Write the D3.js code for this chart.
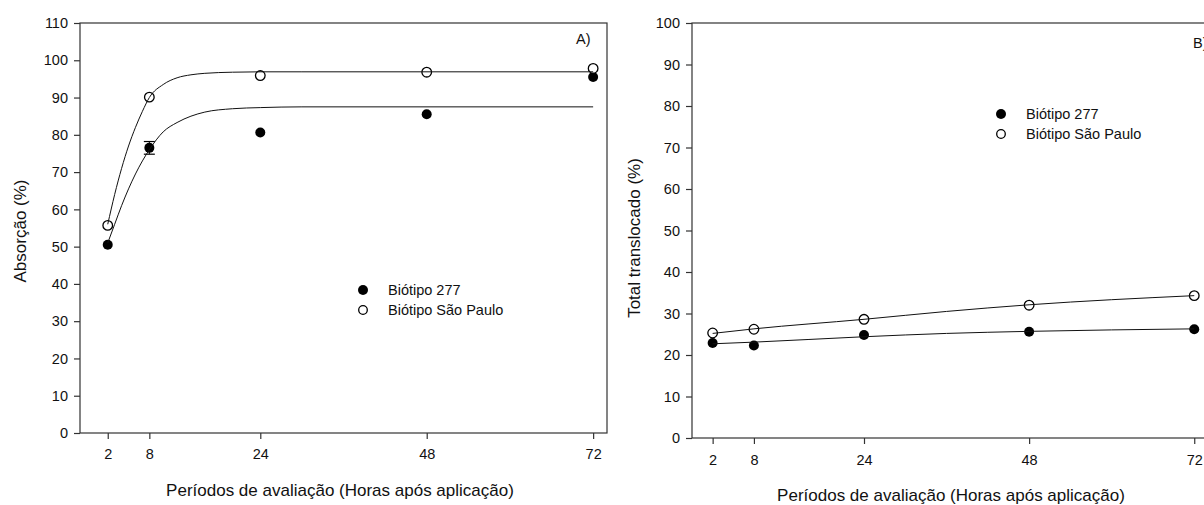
<!DOCTYPE html>
<html>
<head>
<meta charset="utf-8">
<script src="https://cdn.jsdelivr.net/npm/d3@7"></script>
<style>
  body { margin: 0; background: #fff; }
  svg { display: block; font-family: "Liberation Sans", Arial, sans-serif; }
  .axis path, .axis line { stroke: #333; stroke-width: 1.2; }
</style>
</head>
<body>
<div id="vis"></div>
<script>
const FRAME_WIDTH = 1204;
const FRAME_HEIGHT = 505;

// sampling times (hours after application)
const HOURS = [2, 8, 24, 48, 72];
const X_TICKS = [2, 8, 24, 48, 72];
const SERIES_NAMES = ["Biótipo 277", "Biótipo São Paulo"];

// panel A - absorption (%)
const ABS_277 = [50.5, 76.5, 80.6, 85.5, 95.5];
const ABS_277_ERR = [0, 1.7, 0, 0, 0];
const ABS_SP = [55.7, 90.1, 95.9, 96.8, 97.8];
// fitted curves
const ABS_FIT_X = [2, 3, 4, 5, 6, 7, 8, 10, 12, 14, 16, 20, 24, 30, 72];
const ABS_FIT_277 = [51, 56, 61, 65.5, 69.5, 73, 76, 80.8, 83.3, 85, 86.1, 87, 87.3, 87.5, 87.5];
const ABS_FIT_SP = [56, 64, 71, 77, 82, 86.3, 90, 93.5, 95.3, 96.1, 96.5, 96.8, 96.9, 96.9, 96.9];

// panel B - total translocated (%)
const TRANS_277 = [22.9, 22.3, 24.8, 25.6, 26.2];
const TRANS_SP = [25.3, 26.2, 28.6, 32.0, 34.3];
const TRANS_FIT_X = [2, 8, 24, 36, 48, 72];
const TRANS_FIT_277 = [22.7, 23.1, 24.4, 25.2, 25.7, 26.3];
const TRANS_FIT_SP = [25.2, 26.3, 28.6, 30.5, 32.1, 34.3];

const X_TITLE = "Períodos de avaliação (Horas após aplicação)";

const SVG = d3.select("#vis")
              .append("svg")
                .attr("width", FRAME_WIDTH)
                .attr("height", FRAME_HEIGHT);

function panel(cfg) {
    const X_SCALE = d3.scaleLinear()
                      .domain(cfg.xDomain)
                      .range([cfg.left, cfg.right]);
    const Y_SCALE = d3.scaleLinear()
                      .domain([0, cfg.yMax])
                      .range([cfg.bottom, cfg.top]);

    // frame
    SVG.append("rect")
       .attr("x", cfg.left)
       .attr("y", cfg.top)
       .attr("width", cfg.right - cfg.left)
       .attr("height", cfg.bottom - cfg.top)
       .attr("fill", "none")
       .attr("stroke", "#333")
       .attr("stroke-width", 1.2);

    // x axis
    const xAxis = SVG.append("g")
       .attr("class", "axis")
       .attr("transform", "translate(0," + cfg.bottom + ")")
       .call(d3.axisBottom(X_SCALE).tickValues(X_TICKS).tickSize(6).tickSizeOuter(0).tickPadding(cfg.xPad));
    xAxis.select(".domain").remove();

    // y axis
    const yAxis = SVG.append("g")
       .attr("class", "axis")
       .attr("transform", "translate(" + cfg.left + ",0)")
       .call(d3.axisLeft(Y_SCALE).tickValues(d3.range(0, cfg.yMax + 1, 10)).tickSize(6).tickSizeOuter(0).tickPadding(6));
    yAxis.select(".domain").remove();

    [xAxis, yAxis].forEach((g) => {
        g.attr("font-family", "Liberation Sans, Arial, sans-serif")
         .attr("font-size", 14.5);
        g.selectAll("text").attr("fill", "#111");
    });

    // error bars
    cfg.err.forEach((e, i) => {
        if (e <= 0) return;
        const cx = X_SCALE(HOURS[i]);
        const y0 = Y_SCALE(cfg.s277[i] - e), y1 = Y_SCALE(cfg.s277[i] + e);
        SVG.append("line").attr("x1", cx).attr("x2", cx).attr("y1", y0).attr("y2", y1)
           .attr("stroke", "#000").attr("stroke-width", 1);
        [y0, y1].forEach((yy) => {
            SVG.append("line").attr("x1", cx - 5.5).attr("x2", cx + 5.5).attr("y1", yy).attr("y2", yy)
               .attr("stroke", "#000").attr("stroke-width", 1.2);
        });
    });

    // points
    SVG.selectAll(null)
       .data(cfg.s277)
       .enter()
       .append("circle")
         .attr("cx", (d, i) => X_SCALE(HOURS[i]))
         .attr("cy", (d) => Y_SCALE(d))
         .attr("r", 5)
         .attr("fill", "#000");

    SVG.selectAll(null)
       .data(cfg.sSP)
       .enter()
       .append("circle")
         .attr("cx", (d, i) => X_SCALE(HOURS[i]))
         .attr("cy", (d) => Y_SCALE(d))
         .attr("r", 4.8)
         .attr("fill", "#fff")
         .attr("stroke", "#000")
         .attr("stroke-width", 1.3);

    // fitted curves
    const line = d3.line()
                   .x((d) => X_SCALE(d[0]))
                   .y((d) => Y_SCALE(d[1]))
                   .curve(d3.curveMonotoneX);
    [cfg.fit277, cfg.fitSP].forEach((ys) => {
        SVG.append("path")
           .datum(cfg.fitX.map((x, i) => [x, ys[i]]))
           .attr("d", line)
           .attr("fill", "none")
           .attr("stroke", "#111")
           .attr("stroke-width", 1);
    });

    // axis titles
    SVG.append("text")
       .attr("x", cfg.xTitlePos[0])
       .attr("y", cfg.xTitlePos[1])
       .attr("dy", "0.35em")
       .attr("text-anchor", "middle")
       .attr("font-size", "17px")
       .attr("fill", "#111")
       .text(X_TITLE);

    SVG.append("text")
       .attr("transform", "translate(" + cfg.yTitlePos[0] + "," + cfg.yTitlePos[1] + ") rotate(-90)")
       .attr("dy", "0.35em")
       .attr("text-anchor", "middle")
       .attr("font-size", "17px")
       .attr("fill", "#111")
       .text(cfg.yTitle);

    // panel letter
    SVG.append("text")
       .attr("x", cfg.letterPos[0])
       .attr("y", cfg.letterPos[1])
       .attr("dy", "0.35em")
       .attr("font-size", "14.5px")
       .attr("fill", "#111")
       .text(cfg.letter);

    // legend
    SERIES_NAMES.forEach((name, i) => {
        const ly = cfg.legendPos[1] + i * 20;
        SVG.append("circle")
           .attr("cx", cfg.legendPos[0])
           .attr("cy", ly)
           .attr("r", i === 0 ? 5 : 4.3)
           .attr("fill", i === 0 ? "#000" : "#fff")
           .attr("stroke", "#000")
           .attr("stroke-width", i === 0 ? 0 : 1.3);
        SVG.append("text")
           .attr("x", cfg.legendPos[0] + 25)
           .attr("y", ly)
           .attr("dy", "0.35em")
           .attr("font-size", "14.5px")
           .attr("fill", "#111")
           .text(name);
    });
}

panel({
    left: 80, right: 607, top: 23, bottom: 433,
    xDomain: [-2, 74], yMax: 110,
    s277: ABS_277, sSP: ABS_SP, err: ABS_277_ERR,
    fitX: ABS_FIT_X, fit277: ABS_FIT_277, fitSP: ABS_FIT_SP,
    yTitle: "Absorção (%)", yTitlePos: [20, 231],
    xTitlePos: [340, 490], xPad: 10,
    letter: "A)", letterPos: [576, 39],
    legendPos: [363, 290]
});

panel({
    left: 692, right: 1208, top: 23, bottom: 438,
    xDomain: [-1, 74], yMax: 100,
    s277: TRANS_277, sSP: TRANS_SP, err: [0, 0, 0, 0, 0],
    fitX: TRANS_FIT_X, fit277: TRANS_FIT_277, fitSP: TRANS_FIT_SP,
    yTitle: "Total translocado (%)", yTitlePos: [634, 238],
    xTitlePos: [951, 495], xPad: 11,
    letter: "B)", letterPos: [1193, 43],
    legendPos: [1001, 114]
});
</script>
</body>
</html>
